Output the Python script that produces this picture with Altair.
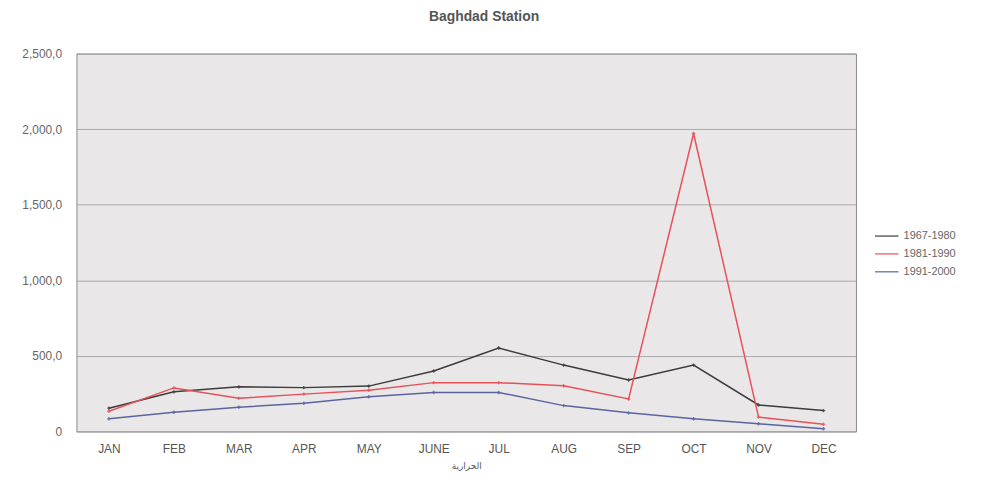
import altair as alt
import pandas as pd

months = ["JAN", "FEB", "MAR", "APR", "MAY", "JUNE", "JUL", "AUG", "SEP", "OCT", "NOV", "DEC"]
series_names = ["1967-1980", "1981-1990", "1991-2000"]
s1967_1980 = [154, 262, 295, 290, 300, 400, 552, 439, 341, 439, 175, 138]
s1981_1990 = [134, 288, 219, 247, 273, 323, 323, 302, 215, 1971, 95, 47]
s1991_2000 = [84, 127, 160, 186, 230, 258, 258, 171, 123, 84, 51, 18]
colors = ["#3c3c3c", "#e8505a", "#5a64a0"]
y_ticks = [0, 500, 1000, 1500, 2000, 2500]

rows = []
for name, vals in zip(series_names, [s1967_1980, s1981_1990, s1991_2000]):
    for m, v in zip(months, vals):
        rows.append({"month": m, "value": v, "series": name})
df = pd.DataFrame(rows)

font = "Liberation Sans"

base = alt.Chart(df).encode(
    x=alt.X("month:N", sort=months, scale=alt.Scale(type="point", padding=0.5),
            axis=alt.Axis(title="الحرارية", labelAngle=0, ticks=False, domain=False,
                          labelPadding=12, labelFontSize=12, labelColor="#555",
                          labelFont=font, titleFont="DejaVu Sans", titleFontSize=9,
                          titleFontWeight="normal", titleColor="#555", titlePadding=7)),
    y=alt.Y("value:Q", scale=alt.Scale(domain=[0, 2500], nice=False),
            axis=alt.Axis(title=None, values=y_ticks, ticks=False, domain=False,
                          labelExpr="datum.value == 0 ? '0' : format(datum.value, ',') + ',0'",
                          labelPadding=15, labelFontSize=12, labelColor="#666",
                          labelFont=font, gridColor="#9a9a9a", gridWidth=0.8)),
    color=alt.Color("series:N", sort=series_names,
                    scale=alt.Scale(domain=series_names, range=colors),
                    legend=alt.Legend(title=None, orient="none", legendX=800, legendY=167,
                                      symbolType="stroke", symbolSize=560, symbolStrokeWidth=1.5,
                                      labelFont=font, labelFontSize=11, labelColor="#666",
                                      rowPadding=-6, padding=4, labelOffset=4)),
)

lines = base.mark_line(strokeWidth=1.5)
points = base.mark_point(shape="cross", size=12, filled=True, opacity=0.8)

chart = (lines + points).properties(
    width=786, height=381,
    background="#ffffff",
    title=alt.TitleParams("Baghdad Station", font=font, fontSize=14, fontWeight="bold",
                          color="#555", offset=24, anchor="middle", dx=18),
    autosize=alt.AutoSizeParams(type="none"),
    padding={"left": 69, "top": 44, "right": 120, "bottom": 48},
).configure_view(
    fill="#e9e7e7", stroke="#8a8a8a", strokeWidth=1
)

chart.save("out.html", embed_options={"renderer": "svg", "actions": False})
